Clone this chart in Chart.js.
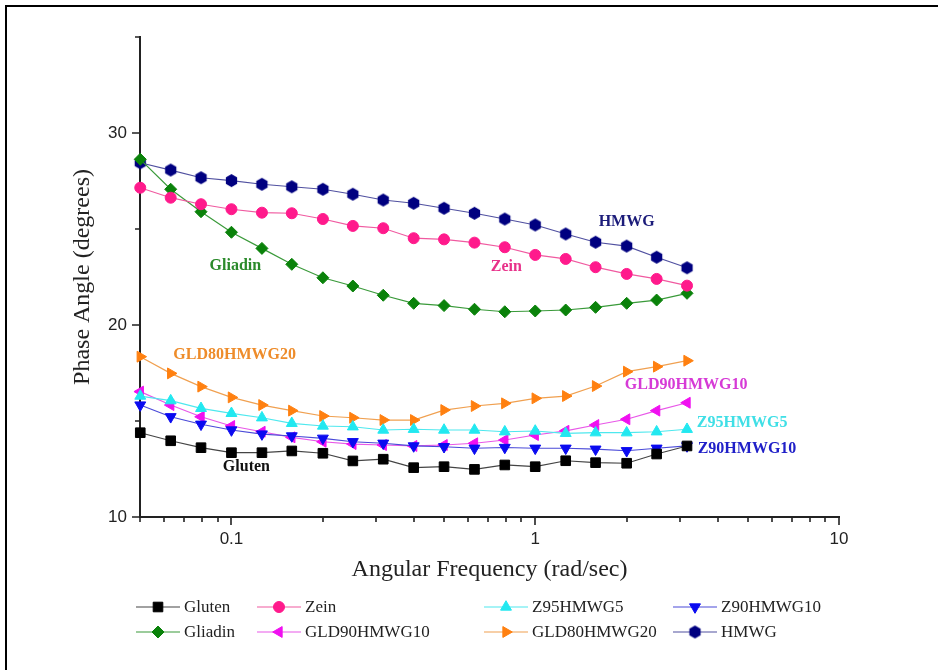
<!DOCTYPE html>
<html lang="en">
<head>
<meta charset="UTF-8" />
<title>Phase Angle vs Angular Frequency</title>
<script src="https://cdn.jsdelivr.net/npm/chart.js"></script>
<style>
  html, body { margin: 0; padding: 0; background: #fff; overflow: hidden; }
  #frame { position: absolute; left: 5px; top: 5px; width: 2000px; height: 2000px;
           border-top: 2px solid #000; border-left: 2px solid #000; }
  #wrap { position: absolute; left: 0; top: 0; width: 938px; height: 670px; }
</style>
</head>
<body>
<div id="frame"></div>
<div id="wrap"><canvas id="phaseChart" width="938" height="670"></canvas></div>

<script>
// angular frequency (rad/sec), shared by every series
const freq = [0.0501, 0.0631, 0.0794, 0.1, 0.126, 0.158, 0.2, 0.251, 0.316, 0.398,
              0.501, 0.631, 0.794, 1, 1.26, 1.58, 2, 2.51, 3.16];

// phase angle (degrees)
const gluten  = [14.39, 13.97, 13.61, 13.35, 13.35, 13.44, 13.32, 12.92, 13.01, 12.57,
                 12.62, 12.48, 12.71, 12.62, 12.93, 12.83, 12.80, 13.28, 13.70];
const zein    = [27.15, 26.63, 26.29, 26.03, 25.85, 25.82, 25.52, 25.16, 25.04, 24.52,
                 24.46, 24.29, 24.05, 23.65, 23.44, 23.01, 22.66, 22.40, 22.05];
const z95     = [16.30, 16.06, 15.66, 15.40, 15.17, 14.88, 14.74, 14.70, 14.53, 14.57,
                 14.53, 14.53, 14.44, 14.48, 14.36, 14.39, 14.39, 14.44, 14.57];
const z90     = [15.83, 15.22, 14.83, 14.53, 14.32, 14.22, 14.10, 13.92, 13.84, 13.70,
                 13.66, 13.58, 13.62, 13.58, 13.58, 13.53, 13.45, 13.58, 13.70];
const gliadin = [28.63, 27.07, 25.90, 24.83, 23.99, 23.16, 22.46, 22.03, 21.55, 21.13,
                 21.01, 20.82, 20.69, 20.73, 20.78, 20.92, 21.13, 21.30, 21.65];
const gld90   = [16.53, 15.83, 15.22, 14.74, 14.44, 14.15, 13.92, 13.80, 13.75, 13.70,
                 13.75, 13.84, 14.01, 14.27, 14.49, 14.79, 15.09, 15.54, 15.95];
const gld80   = [18.35, 17.48, 16.79, 16.23, 15.83, 15.54, 15.26, 15.17, 15.05, 15.05,
                 15.57, 15.78, 15.92, 16.18, 16.30, 16.82, 17.57, 17.83, 18.14];
const hmwg    = [28.45, 28.07, 27.67, 27.52, 27.33, 27.20, 27.07, 26.81, 26.51, 26.34,
                 26.08, 25.82, 25.52, 25.21, 24.74, 24.31, 24.11, 23.53, 22.98];

// axis ticks
const xTicks = [0.05, 0.06, 0.07, 0.08, 0.09, 0.1, 0.2, 0.3, 0.4, 0.5, 0.6, 0.7, 0.8, 0.9,
                1, 2, 3, 4, 5, 6, 7, 8, 9, 10];
const xMajor = [0.1, 1, 10];
const yTicks = [10, 15, 20, 25, 30, 35];
const yMajor = [10, 20, 30];

// in-plot labels: [text, frequency, degrees, colour]
const notes = [
  ["HMWG", 2.0, 25.36, "#1c1c7a"],
  ["Zein", 0.803, 23.02, "#e8318a"],
  ["Gliadin", 0.103, 23.07, "#2b8a2b"],
  ["GLD80HMWG20", 0.1025, 18.44, "#ee8c2a"],
  ["GLD90HMWG10", 3.14, 16.88, "#d63ad6"],
  ["Z95HMWG5", 4.8, 14.9, "#3fdfe6"],
  ["Z90HMWG10", 4.98, 13.54, "#2020c8"],
  ["Gluten", 0.112, 12.6, "#111111"]
];

const SERIF = "'Liberation Serif', 'Times New Roman', serif";
const SANS = "'Liberation Sans', Arial, sans-serif";

function hexagon(color, r) {
  const c = document.createElement("canvas");
  const s = Math.ceil(r * 2 + 2);
  c.width = s; c.height = s;
  const g = c.getContext("2d");
  g.fillStyle = color;
  g.beginPath();
  for (let k = 0; k < 6; k++) {
    const a = Math.PI / 2 + k * Math.PI / 3;
    g.lineTo(s / 2 + r * Math.cos(a), s / 2 - r * Math.sin(a));
  }
  g.closePath();
  g.fill();
  return c;
}

function series(label, values, color, line, style, rot, radius) {
  return {
    label: label,
    data: freq.map((f, i) => ({ x: f, y: values[i] })),
    borderColor: line,
    borderWidth: 1.2,
    backgroundColor: color,
    pointBackgroundColor: color,
    pointBorderColor: color,
    pointBorderWidth: 1,
    pointStyle: style,
    pointRotation: rot,
    pointRadius: radius,
    pointHoverRadius: radius,
    tension: 0,
    clip: false
  };
}

const datasets = [
  series("Gluten", gluten, "#000000", "#444444", "rect", 0, 6.8),
  series("Zein", zein, "#ff1a8c", "#f05aa0", "circle", 0, 5.5),
  series("Z95HMWG5", z95, "#22e8f0", "#4ee8ee", "triangle", 0, 6.3),
  series("Z90HMWG10", z90, "#0a0af0", "#4a4ad8", "triangle", 180, 6.3),
  series("Gliadin", gliadin, "#0a820a", "#3a9a3a", "rectRot", 0, 6),
  series("GLD90HMWG10", gld90, "#f010f0", "#e858e8", "triangle", -90, 6.3),
  series("GLD80HMWG20", gld80, "#ff8010", "#f0a050", "triangle", 90, 6.3),
  series("HMWG", hmwg, "#000080", "#5050a0", hexagon("#000080", 6.5), 0, 6.5)
];

const legendCols = [136, 257, 484, 673];
const legendRows = [607, 632];

const decorations = {
  id: "decorations",
  afterDraw(chart) {
    const { ctx, chartArea, scales } = chart;
    ctx.save();

    // tick marks (outward, short minor ones)
    ctx.strokeStyle = "#222";
    ctx.lineWidth = 1.6;
    ctx.beginPath();
    xTicks.forEach(v => {
      const px = Math.round(scales.x.getPixelForValue(v));
      const len = xMajor.includes(v) ? 8 : 5;
      ctx.moveTo(px, chartArea.bottom);
      ctx.lineTo(px, chartArea.bottom + len);
    });
    yTicks.forEach(v => {
      const py = Math.round(scales.y.getPixelForValue(v));
      const len = yMajor.includes(v) ? 8 : 5;
      ctx.moveTo(chartArea.left, py);
      ctx.lineTo(chartArea.left - len, py);
    });
    ctx.stroke();

    // series labels inside the plot
    ctx.font = "bold 16px " + SERIF;
    ctx.textAlign = "center";
    ctx.textBaseline = "middle";
    notes.forEach(([t, fx, fy, col]) => {
      ctx.fillStyle = col;
      ctx.fillText(t, scales.x.getPixelForValue(fx), scales.y.getPixelForValue(fy));
    });

    // legend: line + marker + name, two rows of four
    const drawPoint = Chart.helpers && Chart.helpers.drawPoint;
    ctx.font = "17px " + SERIF;
    ctx.textAlign = "left";
    chart.data.datasets.forEach((ds, i) => {
      const x0 = legendCols[i % 4];
      const y0 = legendRows[Math.floor(i / 4)];
      ctx.strokeStyle = ds.borderColor;
      ctx.lineWidth = 1.2;
      ctx.beginPath();
      ctx.moveTo(x0, y0);
      ctx.lineTo(x0 + 44, y0);
      ctx.stroke();
      ctx.fillStyle = ds.pointBackgroundColor;
      ctx.strokeStyle = ds.pointBorderColor;
      ctx.lineWidth = 1;
      if (drawPoint) {
        drawPoint(ctx, { pointStyle: ds.pointStyle, rotation: ds.pointRotation,
                         radius: ds.pointRadius, borderWidth: 1 }, x0 + 22, y0);
      }
      ctx.fillStyle = "#222";
      ctx.fillText(ds.label, x0 + 48, y0 + 1);
    });
    ctx.restore();
  }
};

new Chart(document.getElementById("phaseChart"), {
  type: "line",
  data: { datasets: datasets },
  options: {
    responsive: false,
    animation: false,
    events: [],
    layout: { padding: { left: 0, right: 99, top: 37, bottom: 0 } },
    plugins: { legend: { display: false }, tooltip: { enabled: false } },
    scales: {
      x: {
        type: "logarithmic",
        min: 0.05,
        max: 10,
        afterFit: s => { s.height = 153; },
        afterBuildTicks: s => { s.ticks = xTicks.map(v => ({ value: v, major: xMajor.includes(v) })); },
        grid: { display: false, drawTicks: false },
        border: { display: true, color: "#222", width: 2 },
        ticks: {
          autoSkip: false,
          maxRotation: 0,
          padding: 12,
          color: "#222",
          font: { family: SANS, size: 17 },
          callback: v => xMajor.includes(v) ? String(v) : ""
        },
        title: {
          display: true,
          text: "Angular Frequency (rad/sec)",
          color: "#222",
          font: { family: SERIF, size: 24 },
          padding: { bottom: 86 }
        }
      },
      y: {
        min: 10,
        max: 35,
        afterFit: s => { s.width = 140; },
        afterBuildTicks: s => { s.ticks = yTicks.map(v => ({ value: v })); },
        grid: { display: false, drawTicks: false },
        border: { display: true, color: "#222", width: 2 },
        ticks: {
          autoSkip: false,
          padding: 13,
          color: "#222",
          font: { family: SANS, size: 17 },
          callback: v => yMajor.includes(v) ? String(v) : ""
        },
        title: {
          display: true,
          text: "Phase Angle (degrees)",
          color: "#222",
          font: { family: SERIF, size: 24 },
          padding: { top: 68 }
        }
      }
    }
  },
  plugins: [decorations]
});
</script>
</body>
</html>
